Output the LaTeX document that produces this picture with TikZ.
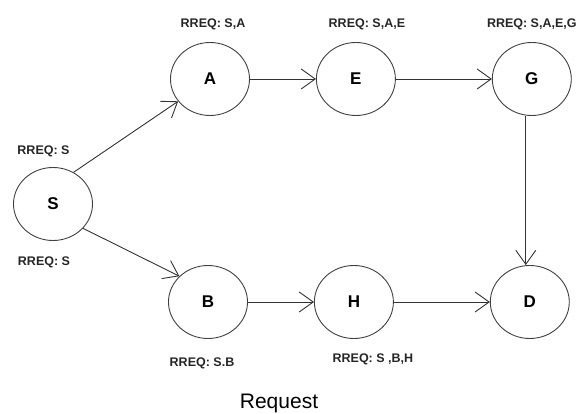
\documentclass[tikz,border=0pt]{standalone}
\usepackage{fontspec}
\setmainfont{Liberation Sans}
\usetikzlibrary{shapes,
                arrows.meta,
                positioning}
\tikzset{station/.style=
   {ellipse,
    draw=black!75,
    line width=0.9pt,
    text centered,
    minimum width=79pt,
    minimum height=73pt,
    font=\fontsize{17}{20}\selectfont\bfseries}}
\tikzset{rreq/.style =
   {inner sep=0pt,
    text=black!85,
    font=\fontsize{12.5}{14}\selectfont\bfseries}}
\tikzset{arrow/.style = {draw=black!80, line width=0.9pt, -{Straight Barb[length=14pt,width=20pt]}}}

\begin{document}
\begin{tikzpicture}[auto, x=1pt, y=-1pt]
    \useasboundingbox (0,0) rectangle (579,414);

    \node [station,
           label={[rreq, label distance=10pt, xshift=-9.5pt]above:{RREQ: S}},
           label={[rreq, label distance=16pt, xshift=-9pt]below:{RREQ: S}}] (S) at (53,204) {S};

    \node [station,
           label={[rreq, label distance=12pt, xshift=3pt]above:{RREQ: S,A}}] (A) at (210,79) {A};

    \node [station,
           label={[rreq, label distance=12pt, xshift=11pt]above:{RREQ: S,A,E}},
           node distance = 66pt,
           right = of A] (E) {E};

    \node [station,
           label={[rreq, label distance=12pt]above:{RREQ: S,A,E,G}},
           node distance = 96pt,
           right = of E] (G) {G};

    \node [station,
           label={[rreq, label distance=19pt, xshift=-6pt]below:{RREQ: S.B}}] (B) at (208,302) {B};

    \node [station,
           label={[rreq, label distance=15pt, xshift=19pt]below:{RREQ: S ,B,H}},
           node distance = 66pt,
           right = of B] (H) {H};

    \node [station,
           node distance = 96pt,
           right = of H] (D) {D};

    \node [font=\fontsize{21}{24}\selectfont,
           anchor=base] (req) at (279,408) {Request};

    \draw [arrow] (S.57) -- (A.215);
    \draw [arrow] (S.321) -- (B.138);
    \draw [arrow] (A.east) -- (E.west);
    \draw [arrow] (E.east) -- (G.west);
    \draw [arrow] ([xshift=-6pt]G.south) -- ([xshift=-6pt]G.south |- D.north);
    \draw [arrow] (B.east) -- (H.west);
    \draw [arrow] (H.east) -- (D.west);

\end{tikzpicture}
\end{document}
